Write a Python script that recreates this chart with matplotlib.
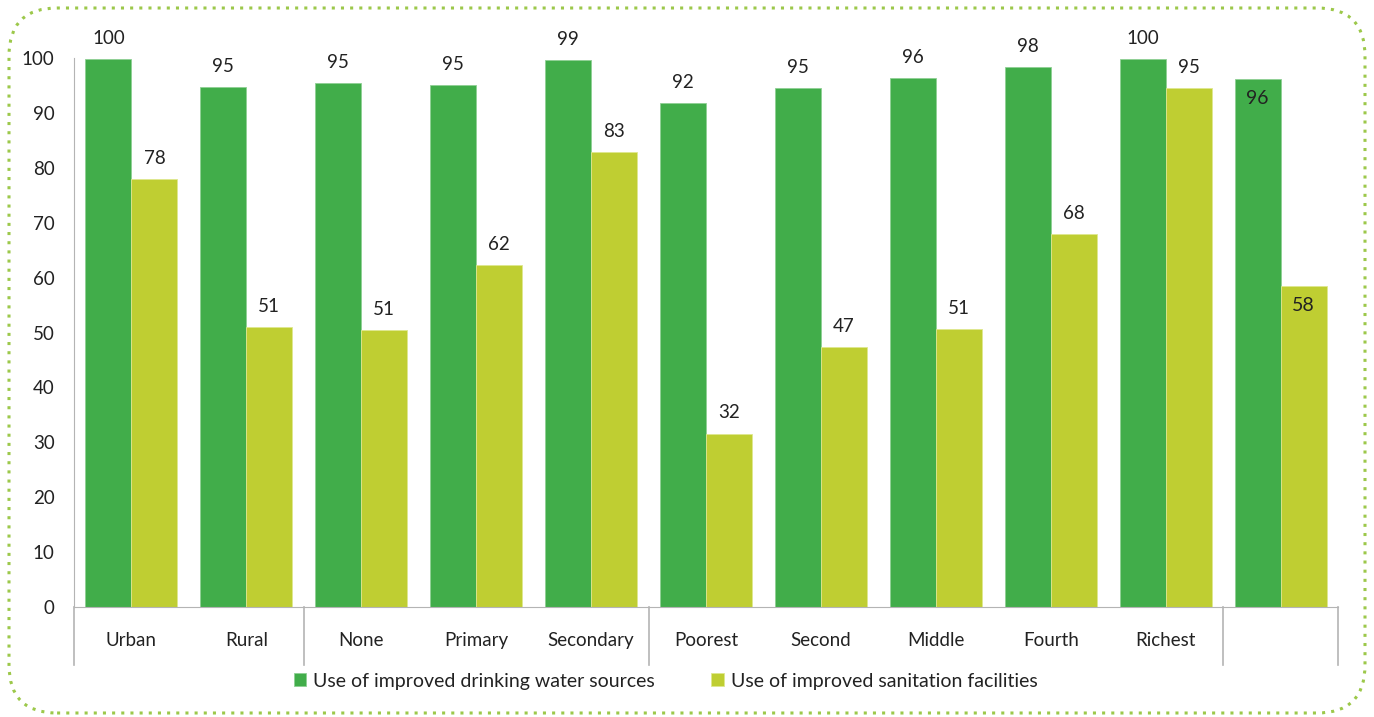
import numpy as np
import matplotlib.pyplot as plt
from matplotlib.patches import FancyBboxPatch

categories = ["Urban", "Rural", "None", "Primary", "Secondary", "Poorest",
              "Second", "Middle", "Fourth", "Richest", ""]
water = [100, 95, 95, 95, 99, 92, 95, 96, 98, 100, 96]
sanitation = [78, 51, 51, 62, 83, 32, 47, 51, 68, 95, 58]
# bar heights (labels are rounded)
water_h = [99.8, 94.7, 95.5, 95.0, 99.6, 91.8, 94.5, 96.3, 98.4, 99.8, 96.2]
sanit_h = [78.0, 51.0, 50.5, 62.3, 82.9, 31.6, 47.3, 50.6, 67.9, 94.5, 58.5]
group_edges = [-0.5, 1.5, 4.5, 9.5, 10.5]

green = "#41ad4a"
lime = "#bfce32"
grey = "#b4b4b4"
txt = "#222222"

plt.rcParams['font.family'] = ['Lato', 'DejaVu Sans']

fig = plt.figure(figsize=(13.74, 7.17), dpi=100)
ax = fig.add_axes([74 / 1374, 1 - 607 / 717, (1338 - 74) / 1374, (607 - 58) / 717])

x = np.arange(len(categories))
w = 0.4
ax.bar(x - w / 2, water_h, w, color=green, edgecolor="#8fd094", linewidth=0.6,
       label="Use of improved drinking water sources")
ax.bar(x + w / 2, sanit_h, w, color=lime, edgecolor="#dfe88f", linewidth=0.6,
       label="Use of improved sanitation facilities")

for i in range(len(categories)):
    if i == len(categories) - 1:
        ax.text(x[i] - w / 2, water_h[i] - 2.0, str(water[i]), ha="center", va="top",
                fontsize=14, color=txt)
        ax.text(x[i] + w / 2, sanit_h[i] - 2.0, str(sanitation[i]), ha="center", va="top",
                fontsize=14, color=txt)
    else:
        ax.text(x[i] - w / 2, water_h[i] + 2.2, str(water[i]), ha="center", va="bottom",
                fontsize=13.5, color=txt, clip_on=False)
        ax.text(x[i] + w / 2, sanit_h[i] + 2.2, str(sanitation[i]), ha="center", va="bottom",
                fontsize=13.5, color=txt, clip_on=False)

ax.set_xlim(-0.5, len(categories) - 0.5)
ax.set_ylim(0, 100)
ax.set_yticks(range(0, 101, 10))
ax.tick_params(axis="y", length=0, pad=14, labelsize=13.5, labelcolor=txt)
ax.set_xticks(x)
ax.set_xticklabels(categories)
ax.tick_params(axis="x", length=0, pad=18, labelsize=13.5, labelcolor=txt)

for s in ["top", "right"]:
    ax.spines[s].set_visible(False)
ax.spines["left"].set_color(grey)
ax.spines["bottom"].set_color(grey)

trans = ax.get_xaxis_transform()
for e in group_edges:
    ax.plot([e, e], [0, -0.106], color=grey, lw=1.2, transform=trans, clip_on=False)

leg = ax.legend(loc="center", bbox_to_anchor=(0.468, -0.135), ncol=2, frameon=False,
                fontsize=14, handlelength=0.65, handleheight=0.65, handletextpad=0.35,
                columnspacing=2.9)
for t in leg.get_texts():
    t.set_color(txt)

border = FancyBboxPatch((9 / 1374, 4 / 717), 1356 / 1374, 705 / 717,
                        boxstyle="round,pad=0,rounding_size=0.035",
                        transform=fig.transFigure, fill=False, edgecolor="#9cc84a",
                        linestyle=(0, (1, 2)), linewidth=2.2, mutation_aspect=1374 / 717)
fig.patches.append(border)

fig.savefig("out.png", dpi=100)
